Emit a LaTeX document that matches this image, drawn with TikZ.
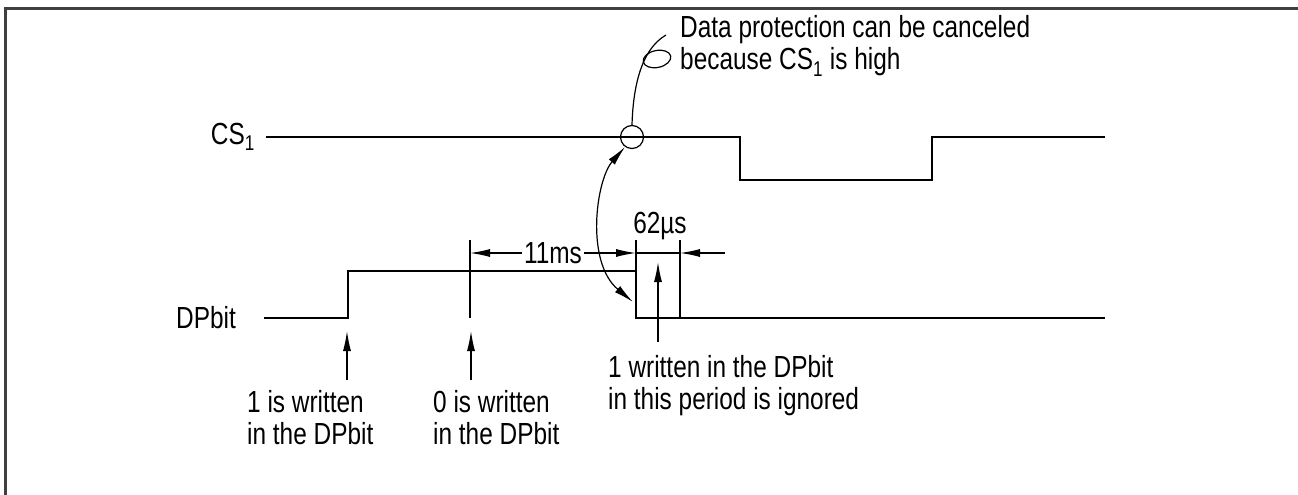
\documentclass[tikz,border=0pt]{standalone}
\usepackage{fontspec}
\setmainfont{Liberation Sans}[FakeStretch=0.8]
\usetikzlibrary{arrows.meta}
\begin{document}
\begin{tikzpicture}[x=1pt,y=-1pt,
  font=\fontsize{30.5}{32}\selectfont,
  sig/.style={line width=2.2pt, line join=miter},
  thinline/.style={line width=1.2pt},
  tiparrow/.style={thinline,-{Latex[length=20pt,width=8pt]}},
  dimarrow/.style={thinline,{Latex[length=20pt,width=8pt]}-{Latex[length=20pt,width=8pt]}},
  lbl/.style={inner sep=0pt, align=left}]
\useasboundingbox (0,0) rectangle (1298,495);
% frame
\draw[line width=3pt, black!75] (5,495) -- (5,9) -- (1298,9);
% labels
\node[lbl, anchor=east] (cslbl) at (255,137) {CS\textsubscript{1}};
\node[lbl, anchor=east] (dplbl) at (236,318) {DPbit};
% CS1 waveform
\coordinate (cs0) at (266,137);
\coordinate (cs1) at (740,137);
\coordinate (cs2) at (932,137);
\coordinate (cs3) at (1105,137);
\draw[sig] (cs0) -- (cs1) -- ++(0,43) -| (cs2) -- (cs3);
% DPbit waveform
\coordinate (dp0) at (264,318);
\coordinate (dp1) at (348,318);
\coordinate (dp2) at (636,271);
\coordinate (dp3) at (1105,318);
\draw[sig] (dp0) -- (dp1) |- (dp2) |- (dp3);
% circle
\node[circle, draw, thinline, minimum size=23pt, inner sep=0pt] (circ) at (632,137) {};
% annotation leader with loop
\node[lbl, anchor=west] (note) at (680,46) {Data protection can be canceled\\because CS\textsubscript{1} is high};
\coordinate (ldend) at (666,35);
\draw[thinline] (circ.north) .. controls (633,90) and (640,50) .. (ldend);
\draw[thinline, rotate around={12:(657,59)}] (657,59) ellipse [x radius=14pt, y radius=8.5pt];
% double curved arrow
\coordinate (edge) at (633,302);
\draw[dimarrow] (circ.235) .. controls (596,180) and (585,262) .. (edge);
% ticks
\coordinate (t1a) at (470,240); \coordinate (t1b) at (470,318);
\coordinate (t2a) at (636,240);
\coordinate (t3a) at (680,240); \coordinate (t3b) at (680,318);
\draw[thinline] (t1a) -- (t1b);
\draw[thinline] (t2a) -- (dp2);
\draw[thinline] (t3a) -- (t3b);
% dimensions
\coordinate (d1) at (470,253);
\coordinate (d2) at (636,253);
\coordinate (d3) at (680,253);
\coordinate (d4) at (725,253);
\draw[dimarrow] (d1) -- (d2) node[midway, fill=white, inner sep=2pt] {11ms};
\draw[thinline] (d2) -- (d3);
\draw[tiparrow] (d4) -- (d3);
\node[lbl] (t62) at (660,226) {62µs};
% up arrows and texts
\node[lbl, anchor=north west] (w1) at (247,390) {1 is written\\in the DPbit};
\node[lbl, anchor=north west] (w0) at (433,390) {0 is written\\in the DPbit};
\node[lbl, anchor=north west] (wi) at (608,355) {1 written in the DPbit\\in this period is ignored};
\coordinate (a1) at (347,380); \coordinate (a1t) at (347,331);
\coordinate (a0) at (471,380); \coordinate (a0t) at (471,331);
\coordinate (ai) at (658,342); \coordinate (ait) at (658,262);
\draw[tiparrow] (a1) -- (a1t);
\draw[tiparrow] (a0) -- (a0t);
\draw[tiparrow] (ai) -- (ait);
\end{tikzpicture}
\end{document}
